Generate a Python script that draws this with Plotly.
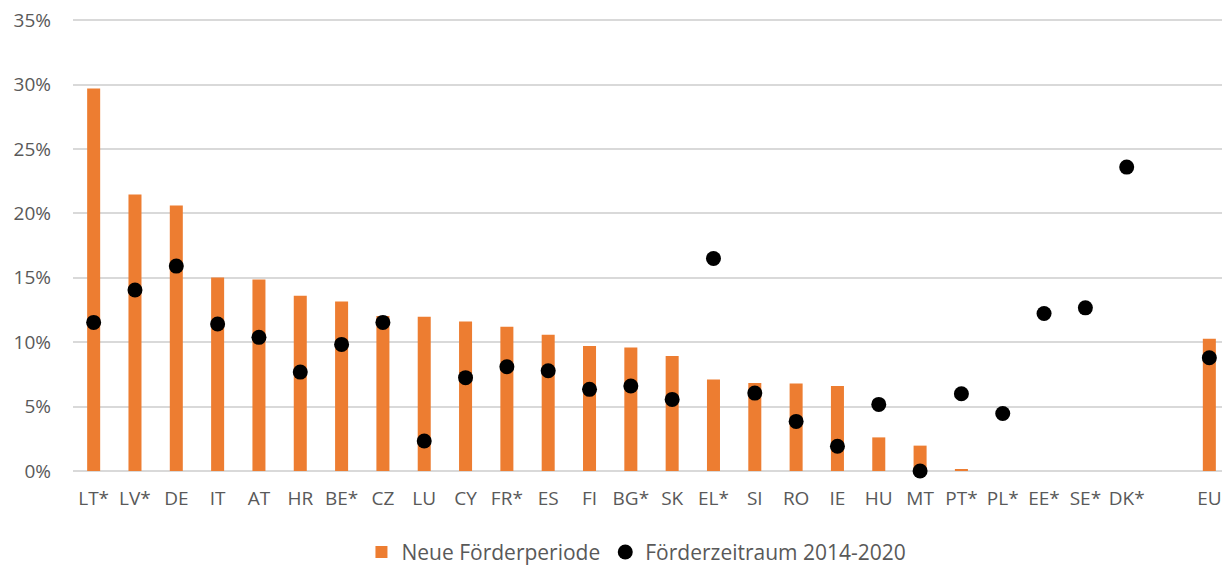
import plotly.graph_objects as go

countries = ["LT*", "LV*", "DE", "IT", "AT", "HR", "BE*", "CZ", "LU", "CY", "FR*", "ES",
             "FI", "BG*", "SK", "EL*", "SI", "RO", "IE", "HU", "MT", "PT*", "PL*", "EE*",
             "SE*", "DK*", " ", "EU"]

neue_periode = [29.7, 21.47, 20.62, 15.03, 14.88, 13.61, 13.17, 12.03, 11.97, 11.6, 11.2, 10.58,
                9.7, 9.6, 8.93, 7.1, 6.84, 6.8, 6.6, 2.61, 1.97, 0.13, 0, 0,
                0, 0, None, 10.27]

zeitraum_2014_2020 = [11.54, 14.05, 15.91, 11.41, 10.38, 7.68, 9.83, 11.54, 2.33, 7.25, 8.1, 7.79,
                      6.34, 6.6, 5.56, 16.5, 6.05, 3.85, 1.92, 5.17, 0, 6.0, 4.47, 12.23,
                      12.67, 23.6, None, 8.79]

y_ticks = [0, 5, 10, 15, 20, 25, 30, 35]

font_family = "Open Sans"
text_grey = "#595959"

fig = go.Figure()

fig.add_trace(
    go.Bar(
        x=countries,
        y=[v / 100 if v is not None else None for v in neue_periode],
        name="Neue Förderperiode",
        marker=dict(color="#ED7D31", line=dict(width=0)),
    )
)

fig.add_trace(
    go.Scatter(
        x=countries,
        y=[v / 100 if v is not None else None for v in zeitraum_2014_2020],
        mode="markers",
        name="Förderzeitraum 2014-2020",
        marker=dict(color="black", size=15),
        cliponaxis=False,
    )
)

# page body has an 8px margin, so the figure is sized to fit inside the window
fig.update_layout(
    width=1222,
    height=560,
    margin=dict(l=65, r=0, t=11, b=97, autoexpand=False),
    plot_bgcolor="white",
    paper_bgcolor="white",
    bargap=0.685,
    font=dict(family=font_family, size=19, color=text_grey),
    showlegend=True,
    legend=dict(
        orientation="h",
        xanchor="center",
        x=0.487,
        yanchor="middle",
        y=-0.18,
        font=dict(size=21, color=text_grey),
        traceorder="normal",
    ),
)

fig.update_xaxes(
    type="category",
    range=[-0.5, len(countries) - 0.5],
    showgrid=False,
    showline=False,
    ticks="",
    tickangle=0,
    automargin=False,
    ticklabelstandoff=14,
    tickfont=dict(size=19, color=text_grey),
)

fig.update_yaxes(
    range=[0, 0.351],
    tickvals=[t / 100 for t in y_ticks],
    ticktext=[f"{t}%" for t in y_ticks],
    showgrid=True,
    gridcolor="#D9D9D9",
    gridwidth=1.5,
    zeroline=True,
    zerolinecolor="#D9D9D9",
    zerolinewidth=1.5,
    ticks="",
    automargin=False,
    ticklabelstandoff=21,
    ticklabeloverflow="allow",
    tickfont=dict(size=19, color=text_grey),
)

fig.write_html("out.html")
